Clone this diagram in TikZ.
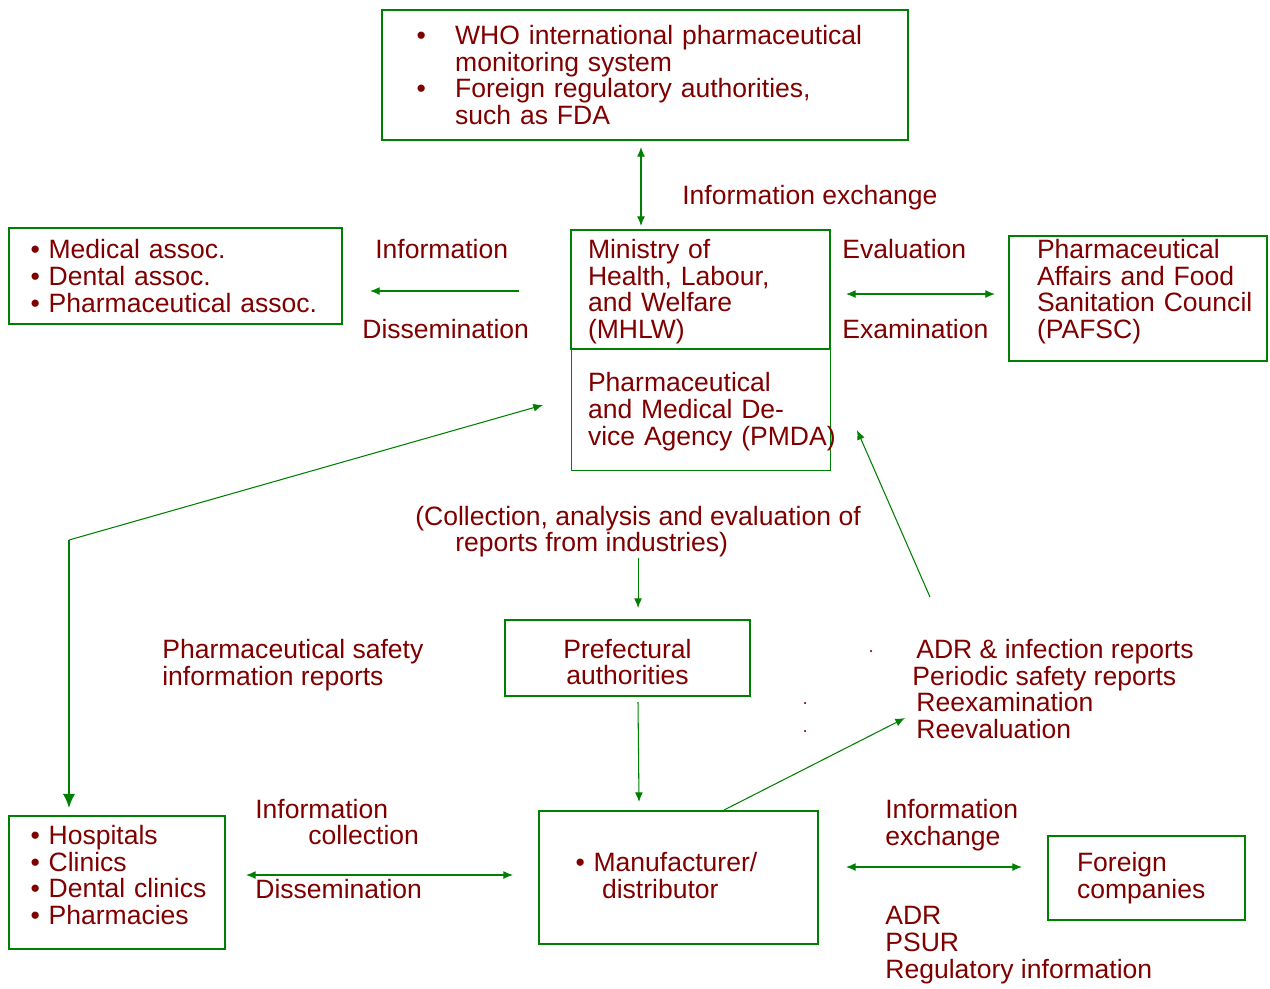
\documentclass[tikz,border=0pt]{standalone}
\usepackage{fontspec}
\setmainfont{Liberation Sans}
\usetikzlibrary{arrows.meta,positioning,calc}
\newlength\pxu
\setlength\pxu{0.02cm}
\definecolor{txtred}{RGB}{128,0,0}
\definecolor{grn}{RGB}{0,128,0}
\newcommand\blt[1]{\makebox[#1][l]{\textbullet}}
\tikzset{
    box/.style={
           draw=grn, line width=0.85pt,
           anchor=north west, outer sep=0pt,
           inner ysep=0pt, align=left
           },
    lbl/.style={
           anchor=west, inner sep=0pt, align=left
           },
    link/.style={
           draw=grn, line width=0.6pt
           },
    heavy/.style={
           draw=grn, line width=1.2pt,
           -{Latex[length=8pt,width=7pt]}
           }
}
\begin{document}
\begin{tikzpicture}[x=0.02cm, y=-0.02cm, >={Latex[length=5.5pt,width=4.5pt]},
    every node/.style={font=\fontsize{15.1}{15.2}\selectfont, text=txtred,
      execute at begin node={\hyphenpenalty=10000\relax\exhyphenpenalty=10000\relax}}]
\fill[white] (0,0) rectangle (1270,988);
\useasboundingbox (0,0) rectangle (1270,988);
% boxes
   \node[box, minimum width=526\pxu, minimum height=130\pxu, inner xsep=34.3\pxu, text width=457\pxu]
      (who) at (382,10) {\blt{38.7\pxu}WHO~international~pharmaceutical\\ \hspace*{38.7\pxu}monitoring~system\\
      \blt{38.7\pxu}Foreign~regulatory~authorities,\\ \hspace*{38.7\pxu}such~as~FDA};
   \node[box, minimum width=333\pxu, minimum height=96\pxu, inner xsep=21.3\pxu, text width=290\pxu]
      (assoc) at (9,228) {\textbullet~Medical~assoc.\\ \textbullet~Dental~assoc.\\ \textbullet~Pharmaceutical~assoc.};
   \node[box, minimum width=259\pxu, minimum height=119\pxu, inner xsep=17\pxu, text width=225\pxu]
      (mhlw) at (571,230) {\rule{0pt}{23.5\pxu}Ministry~of\\Health,~Labour,\\and~Welfare\\(MHLW)};
   \node[box, line width=0.5pt, minimum width=259\pxu, minimum height=121\pxu, inner xsep=17\pxu, text width=225\pxu,
      below=0pt of mhlw] (pmda) {\rule{0pt}{23.5\pxu}Pharmaceutical\\and~Medical~De-\\vice~Agency~(PMDA)};
   \node[box, minimum width=258\pxu, minimum height=125\pxu, inner xsep=28\pxu, text width=202\pxu]
      (pafsc) at (1009,236) {Pharmaceutical\\Affairs~and~Food\\Sanitation~Council\\(PAFSC)\rule[-19\pxu]{0pt}{0pt}};
   \node[box, align=center, minimum width=245\pxu, minimum height=76\pxu, inner xsep=10\pxu, text width=225\pxu]
      (pref) at (505,620) {\rule{0pt}{27.5\pxu}Prefectural\\authorities};
   \node[box, minimum width=216\pxu, minimum height=133\pxu, inner xsep=21.3\pxu, text width=173\pxu]
      (hosp) at (9,816) {\textbullet~Hospitals\\ \textbullet~Clinics\\ \textbullet~Dental~clinics\\ \textbullet~Pharmacies\rule[-15\pxu]{0pt}{0pt}};
   \node[box, minimum width=279\pxu, minimum height=133\pxu, inner xsep=36.5\pxu, text width=206\pxu]
      (manuf) at (539,811) {\textbullet~Manufacturer/\\ \hspace*{26.5\pxu}distributor\rule[-4\pxu]{0pt}{0pt}};
   \node[box, minimum width=197\pxu, minimum height=84\pxu, inner xsep=29\pxu, text width=139\pxu]
      (foreign) at (1048,836) {Foreign\\companies};
% labels
   \node[lbl] (infoex) at (682,198) {Information exchange};
   \node[lbl] (info) at (375,249) {Information};
   \node[lbl] (diss) at (362,329) {Dissemination};
   \node[lbl] (eval) at (842,249) {Evaluation};
   \node[lbl] (exam) at (842,329) {Examination};
   \node[lbl] (coll) at (415,531.5) {(Collection, analysis and evaluation of\\ \hspace*{40\pxu}reports from industries)};
   \node[lbl] (psir) at (162,665) {Pharmaceutical safety\\information reports};
   \node[lbl] (adr) at (912,689) {\hspace*{4\pxu}ADR \& infection reports\\Periodic safety reports\\
      \hspace*{4\pxu}Reexamination\\ \hspace*{4\pxu}Reevaluation};
   \node[lbl] (icoll) at (255,822) {Information\\ \hspace*{53\pxu}collection};
   \node[lbl] (diss2) at (255,889) {Dissemination};
   \node[lbl] (iex2) at (885,825) {Information\\exchange};
   \node[lbl] (psur) at (885,945) {ADR\\PSUR\\Regulatory information};
   \fill[txtred] (871,651) circle (0.7pt) (805,703) circle (0.7pt) (805,731) circle (0.7pt);
% connectors
   \coordinate (bend) at (69,540);
   \coordinate (adrtip) at (930,597);
   \draw[link,<->] ($(who.south)+(-4,7)$) -- ($(who.south |- mhlw.north)+(-4,-4)$);
   \draw[link,->] ($(mhlw.west)+(-52,1.5)$) -- ($(mhlw.west -| assoc.east)+(28,1.5)$);
   \draw[link,<->] ($(mhlw.east)+(16,4.5)$) -- ($(mhlw.east -| pafsc.west)+(-14,4.5)$);
   \draw[link,->] (bend) -- ($(pmda.west)+(-28,-4.5)$);
   \draw[heavy] (bend) -- ($(hosp.north west)+(60,-8)$);
   \draw[link,->] (coll.south) -- ($(coll.south |- pref.north)+(0,-12)$);
   \draw[link,->] ($(pref.south)+(10.5,6)$) -- ($(manuf.north)+(-39.5,-9)$);
   \draw[link,->] (adrtip) -- ($(pmda.east)+(27,20.5)$);
   \draw[link,->] ($(manuf.north)+(45.5,-1)$) -- ($(adr.west)+(-7,29)$);
   \draw[link,<->] ($(hosp.east)+(21,-7.5)$) -- ($(manuf.west)+(-26,-2.5)$);
   \draw[link,<->] ($(manuf.east)+(28,-10.5)$) -- ($(foreign.west)+(-26,-11)$);
\end{tikzpicture}
\end{document}
